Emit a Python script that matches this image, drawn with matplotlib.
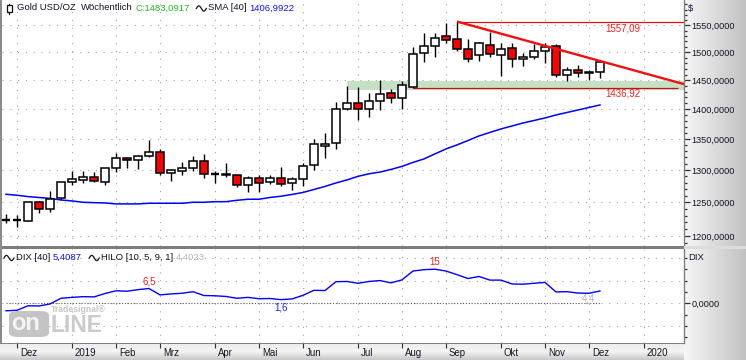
import matplotlib
matplotlib.use("Agg")
import matplotlib.pyplot as plt
import numpy as np
from matplotlib.patches import Rectangle
from matplotlib.lines import Line2D
from matplotlib.ticker import FixedLocator, FixedFormatter, NullFormatter
from matplotlib import transforms

# ---------------- data ----------------
opens = [1223.6, 1224.0, 1222.5, 1250.1, 1239.6, 1256.2, 1280.9, 1285.0, 1288.7, 1281.4,
         1302.9, 1318.8, 1315.3, 1322.1, 1328.2, 1295.0, 1299.1, 1302.6, 1314.0, 1293.4,
         1293.4, 1291.6, 1275.9, 1286.9, 1280.9, 1286.9, 1279.3, 1285.6, 1307.7, 1338.2,
         1343.0, 1399.6, 1409.8, 1399.6, 1414.3, 1427.0, 1418.4, 1438.6, 1498.2, 1512.2,
         1529.5, 1523.9, 1505.5, 1495.1, 1513.2, 1495.1, 1507.3, 1487.8, 1490.9, 1502.9,
         1512.2, 1459.2, 1468.1, 1463.9, 1463.9]
highs = [1232.0, 1231.0, 1251.0, 1251.6, 1267.4, 1281.9, 1299.1, 1298.2, 1296.6, 1303.4,
         1326.9, 1318.8, 1324.1, 1348.4, 1333.3, 1301.5, 1312.1, 1322.9, 1325.8, 1298.5,
         1310.9, 1291.6, 1290.5, 1292.3, 1291.6, 1304.5, 1289.7, 1310.9, 1350.0, 1359.5,
         1411.5, 1439.8, 1438.6, 1427.0, 1450.3, 1434.0, 1448.2, 1509.2, 1535.0, 1535.0,
         1553.8, 1557.09, 1524.5, 1519.0, 1536.9, 1516.5, 1516.5, 1498.2, 1514.6, 1516.5,
         1514.6, 1474.0, 1477.1, 1468.1, 1486.0]
lows = [1219.5, 1212.8, 1222.0, 1234.5, 1236.0, 1255.0, 1277.2, 1279.3, 1281.5, 1277.2,
        1297.5, 1303.9, 1301.3, 1321.5, 1291.6, 1282.2, 1291.6, 1299.1, 1287.0, 1279.0,
        1289.7, 1273.1, 1266.3, 1266.3, 1277.5, 1275.6, 1268.9, 1275.1, 1300.2, 1319.8,
        1333.3, 1399.0, 1381.5, 1386.0, 1398.4, 1410.8, 1400.6, 1436.92, 1482.9, 1491.9,
        1516.5, 1502.4, 1482.9, 1484.2, 1491.9, 1457.9, 1473.9, 1475.7, 1487.3, 1481.1,
        1456.2, 1447.7, 1456.2, 1450.3, 1453.3]
closes = [1224.0, 1223.7, 1250.1, 1239.6, 1255.1, 1280.9, 1285.6, 1288.7, 1282.5, 1302.9,
          1318.8, 1316.1, 1322.5, 1328.2, 1295.0, 1299.7, 1302.9, 1314.0, 1293.4, 1293.1,
          1291.6, 1275.9, 1286.9, 1279.3, 1286.9, 1278.2, 1285.6, 1306.6, 1341.9, 1341.4,
          1399.6, 1409.8, 1399.6, 1414.3, 1425.3, 1418.4, 1441.5, 1497.3, 1512.2, 1526.9,
          1522.6, 1505.5, 1487.3, 1516.5, 1496.4, 1505.5, 1487.8, 1490.9, 1502.9, 1509.2,
          1459.2, 1468.1, 1462.2, 1462.2, 1483.09]
sma40 = [1262.3, 1260.8, 1258.7, 1257.4, 1255.9, 1253.6, 1252.1, 1250.1, 1249.5, 1249.1,
         1247.6, 1247.6, 1247.6, 1248.6, 1248.6, 1248.6, 1248.6, 1250.1, 1250.1, 1251.0,
         1251.0, 1253.1, 1254.7, 1254.7, 1257.4, 1259.3, 1262.0, 1265.1, 1269.7, 1274.4,
         1279.8, 1284.5, 1290.1, 1294.1, 1296.8, 1301.0, 1305.8, 1312.1, 1317.7, 1325.8,
         1333.8, 1340.3, 1347.5, 1355.0, 1360.8, 1366.6, 1371.5, 1376.5, 1380.7, 1384.9,
         1390.0, 1394.2, 1398.4, 1402.7, 1406.99]
dix40 = [-3.3, -3.1, -1.1, -1.2, -0.3, 2.2, 2.6, 2.9, 2.8, 4.3,
         5.5, 5.3, 6.0, 6.5, 3.7, 4.1, 4.4, 5.1, 3.4, 3.3,
         3.0, 2.2, 2.6, 2.0, 2.1, 1.6, 1.9, 3.5, 5.7, 5.6,
         9.5, 9.6, 8.8, 9.6, 10.0, 9.0, 10.3, 14.2, 14.8, 15.0,
         14.2, 12.6, 10.9, 11.8, 10.2, 10.2, 8.5, 8.4, 8.8, 9.2,
         5.0, 5.1, 4.5, 4.4, 5.41]
month_idx = [1, 6, 10, 14, 19, 23, 27, 32, 36, 40, 45, 49, 53, 58]
month_labels = ['Dez', '2019', 'Feb', 'Mrz', 'Apr', 'Mai', 'Jun', 'Jul', 'Aug',
                'Sep', 'Okt', 'Nov', 'Dez', '2020']
price_ticks = [1200, 1250, 1300, 1350, 1400, 1450, 1500, 1550]
res_high = 1557.09
sup_low = 1436.92
zone_low, zone_high = 1433.0, 1449.0
zone_start = 31
res_start = 41
sup_start, sup_end = 37, 61.1
trend_p1 = (41, 1557.09)
trend_p2 = (61.6, 1443.3)
last_close = 1483.0917
last_sma = 1406.9922
last_dix = 5.4087
last_hilo = 4.4023
dix_max_i, dix_min_i, dix_loc_i = 39, 25, 13

# ---------------- figure ----------------
W, H = 746, 360
fig = plt.figure(figsize=(W / 100, H / 100), dpi=100)
fig.patch.set_facecolor('white')
FONT = ['Liberation Sans', 'DejaVu Sans']
TXT = '#141428'
renderer = fig.canvas.get_renderer()

def rect_px(x0, y0, x1, y1):
    return [x0 / W, 1 - y1 / H, (x1 - x0) / W, (y1 - y0) / H]

# gradient backgrounds
bg_r = fig.add_axes(rect_px(684, 0, 746, 360), zorder=0)
grad = np.linspace(0, 1, 64)[None, :]
bg_r.imshow(grad, aspect='auto', cmap=matplotlib.colors.LinearSegmentedColormap.from_list(
    'g', ['#f6f6f6', '#c2c2c2']), extent=(0, 1, 0, 1))
bg_r.axis('off')
bg_b = fig.add_axes(rect_px(0, 343, 684, 360), zorder=0)
bg_b.imshow(np.linspace(0, 1, 32)[:, None], aspect='auto', cmap=matplotlib.colors.LinearSegmentedColormap.from_list(
    'g2', ['#ececec', '#f4f4f4', '#c8c8c8']), extent=(0, 1, 0, 1))
bg_b.axis('off')

ax = fig.add_axes(rect_px(2, 0, 684, 246), zorder=2)
ax2 = fig.add_axes(rect_px(2, 249, 684, 343), zorder=2)

xlim = (-0.364, 61.64)
ax.set_yscale('log')
ax.set_xlim(*xlim)
ax.set_ylim(1185.4, 1598.4)
ax2.set_xlim(*xlim)
ax2.set_ylim(-17.5, 23.9)

grid_h = '#93b393'
grid_v = '#a4a4a4'
dots = (0, (1.0, 6.0))

for a in (ax, ax2):
    a.set_facecolor('white')
    for s in a.spines.values():
        s.set_visible(False)
    a.spines['right'].set_visible(True)
    a.spines['right'].set_color('#808080')
    a.spines['right'].set_linewidth(1.0)
    for m in month_idx:
        a.axvline(m, color=grid_v, lw=0.8, ls=dots, zorder=0.5)

for p in price_ticks:
    ax.axhline(p, color=grid_h, lw=0.8, ls=dots, zorder=0.5)
for g in (-10, 0, 10, 20):
    ax2.axhline(g, color=grid_h, lw=0.8, ls=dots, zorder=0.5)

# support zone and lines
ax.axhspan(zone_low, zone_high, xmin=(zone_start - xlim[0]) / (xlim[1] - xlim[0]), xmax=1,
           facecolor='#c6e0c6', edgecolor='none', zorder=1)
ax.hlines(res_high, res_start, xlim[1], color='#e01010', lw=0.9, zorder=2)
ax.hlines(sup_low, sup_start, sup_end, color='#c81010', lw=0.9, zorder=2)

# SMA
ax.plot(range(len(sma40)), sma40, color='#0000ff', lw=1.1, zorder=2)

# candles
bw = 0.78
for i, (o, h, l, c) in enumerate(zip(opens, highs, lows, closes)):
    ax.vlines(i, l, h, color='black', lw=1.0, zorder=3)
    lo, hi = min(o, c), max(o, c)
    if hi - lo < 1.0:
        ax.hlines((o + c) / 2, i - bw / 2, i + bw / 2, color='black', lw=1.7, zorder=4)
    else:
        fc = 'white' if c >= o else '#ff0000'
        ax.add_patch(Rectangle((i - bw / 2, lo), bw, hi - lo, facecolor=fc,
                               edgecolor='black', lw=1.1, zorder=4))

# trend line
slope = (np.log(trend_p2[1]) - np.log(trend_p1[1])) / (trend_p2[0] - trend_p1[0])
tx = np.array([trend_p1[0], xlim[1]])
ty = np.exp(np.log(trend_p1[1]) + slope * (tx - trend_p1[0]))
ax.plot(tx, ty, color='#f01010', lw=1.7, zorder=5, solid_capstyle='butt')

# value labels
ax.annotate(f"{res_high:.2f}".replace('.', ','), xy=(56.1, res_high), xytext=(0, -4.8),
            textcoords='offset points', ha='center', va='center', color='#ff2020',
            fontsize=7.0, family=FONT, zorder=6)
ax.annotate(f"{sup_low:.2f}".replace('.', ','), xy=(56.1, sup_low), xytext=(0, -4.1),
            textcoords='offset points', ha='center', va='center', color='#ff2020',
            fontsize=7.0, family=FONT, zorder=6)

# right price axis
ax.yaxis.tick_right()
ax.yaxis.set_major_locator(FixedLocator(price_ticks))
ax.yaxis.set_major_formatter(FixedFormatter([f"{p},0000" for p in price_ticks]))
minor = [v for v in range(1190, 1600, 10) if v not in price_ticks]
ax.yaxis.set_minor_locator(FixedLocator(minor))
ax.yaxis.set_minor_formatter(NullFormatter())
ax.tick_params(axis='y', which='major', direction='out', length=4, width=0.9,
               color='#303030', labelsize=6.6, labelcolor=TXT, pad=1.5)
ax.tick_params(axis='y', which='minor', direction='out', length=2.2, width=0.9, color='#303030')
for t in ax.get_yticklabels():
    t.set_family(FONT)
ax.set_xticks([])

# lower panel
ax2.plot(range(len(dix40)), dix40, color='#0000ff', lw=1.0, zorder=3)
ax2.hlines(0, 0, len(dix40) - 1, color='#606060', lw=0.8, ls=(0, (1.0, 1.6)), zorder=2)
ax2.yaxis.tick_right()
ax2.yaxis.set_major_locator(FixedLocator([0]))
ax2.yaxis.set_major_formatter(FixedFormatter(['0,0000']))
ax2.yaxis.set_minor_locator(FixedLocator([-15, -10, -5, 5, 10, 15, 20]))
ax2.yaxis.set_minor_formatter(NullFormatter())
ax2.tick_params(axis='y', which='major', direction='out', length=4, width=0.9,
                color='#303030', labelsize=6.6, labelcolor=TXT, pad=1.5)
ax2.tick_params(axis='y', which='minor', direction='out', length=2.2, width=0.9, color='#303030')
for t in ax2.get_yticklabels():
    t.set_family(FONT)

ax2.set_xticks(month_idx)
ax2.set_xticklabels([])
ax2.tick_params(axis='x', direction='out', length=3.5, width=0.8, color='#303030')
lab_tr = transforms.offset_copy(ax2.get_xaxis_transform(), fig=fig, x=3, y=-10, units='dots')
for m, lab in zip(month_idx, month_labels):
    ax2.text(m, 0, lab, transform=lab_tr, ha='left', va='center', fontsize=6.9,
             color=TXT, family=FONT, clip_on=False)

ax2.annotate(f"{dix40[dix_loc_i]:.1f}".replace('.', ','), xy=(dix_loc_i, dix40[dix_loc_i]),
             xytext=(0, 5.4), textcoords='offset points', ha='center', va='center',
             color='#ff2020', fontsize=7.0, family=FONT)
ax2.annotate(f"{dix40[dix_max_i]:.0f}", xy=(dix_max_i, dix40[dix_max_i]),
             xytext=(0, 4.9), textcoords='offset points', ha='center', va='center',
             color='#ff2020', fontsize=7.0, family=FONT)
ax2.annotate(f"{dix40[dix_min_i]:.1f}".replace('.', ','), xy=(dix_min_i, dix40[dix_min_i]),
             xytext=(0, -5.6), textcoords='offset points', ha='center', va='center',
             color='#2020ff', fontsize=7.0, family=FONT)
ax2.annotate(f"{last_hilo:.1f}".replace('.', ','), xy=(53, last_hilo),
             xytext=(0, -3.6), textcoords='offset points', ha='center', va='center',
             color='#b4b4b4', fontsize=7.0, family=FONT)

# text helpers
def ftext(x, y, s, **kw):
    kw.setdefault('family', FONT)
    kw.setdefault('va', 'center')
    kw.setdefault('ha', 'left')
    return fig.text(x / W, 1 - y / H, s, zorder=10, **kw)

def wave(x0, y0, w=10.0, h=2.6):
    t = np.linspace(0, 2 * np.pi, 40)
    xs = x0 + t / (2 * np.pi) * w
    ys = y0 - h * np.sin(t)
    fig.add_artist(Line2D(xs / W, 1 - ys / H, color='#101010', lw=0.9,
                          transform=fig.transFigure, zorder=10))

def chain(x, y, parts, fs=7.0):
    """parts: list of (text, color, gap_after); text '~' draws the wave icon"""
    for s, col, gap in parts:
        if s == '~':
            wave(x, y + 0.5)
            x += 11.0 + gap
            continue
        t = ftext(x, y, s, fontsize=fs, color=col)
        bb = t.get_window_extent(renderer=renderer)
        x += bb.width + gap

# watermark
fig.add_artist(matplotlib.patches.FancyBboxPatch(
    (9 / W, 1 - 337 / H), 40 / W, 26 / H, boxstyle='round,pad=0,rounding_size=0.012',
    transform=fig.transFigure, facecolor='#c4c4c4', edgecolor='none', zorder=9.5))
ftext(11, 324, 'on', fontsize=17, weight='bold', color='#f4f4f4')
ftext(50, 325, 'LINE', fontsize=16.5, weight='bold', color='#cbcbcb')
ftext(51, 310, 'Tradesignal\u00ae', fontsize=6.2, weight='bold', color='#c6c6c6')

# candle icon
fig.add_artist(Rectangle((7 / W, 1 - 12 / H), 4.5 / W, 7 / H, transform=fig.transFigure,
                         facecolor='white', edgecolor='#101010', lw=0.9, zorder=10))
fig.add_artist(Line2D([9.25 / W, 9.25 / W], [1 - 3.5 / H, 1 - 5 / H], color='#101010', lw=0.9,
                      transform=fig.transFigure, zorder=10))
fig.add_artist(Line2D([9.25 / W, 9.25 / W], [1 - 12 / H, 1 - 13.5 / H], color='#101010', lw=0.9,
                      transform=fig.transFigure, zorder=10))

FS = 6.8
chain(17, 8, [('Gold USD/OZ', TXT, 5.0), ('Wöchentlich', TXT, 2.5),
              ('C:' + f"{last_close:.4f}".replace('.', ','), '#22bb22', 7.0),
              ('~', None, 0.5), ('SMA [40]', TXT, 2.5),
              (f"{last_sma:.4f}".replace('.', ','), '#1010ff', 0)], fs=FS)
chain(4, 257.5, [('~', None, 0.5), ('DIX [40]', TXT, 2.5),
                 (f"{last_dix:.4f}".replace('.', ','), '#1010ff', 8.0),
                 ('~', None, 0.5), ('HILO [10, 5, 9, 1]', TXT, 2.5),
                 (f"{last_hilo:.4f}".replace('.', ','), '#b4b4b4', 0)], fs=FS)

ftext(688, 8, '$', fontsize=FS, color=TXT)
ftext(688, 257, 'DIX', fontsize=FS, color=TXT)

# frame lines
def hbar(x0, x1, y0, y1, color):
    fig.add_artist(Rectangle((x0 / W, 1 - y1 / H), (x1 - x0) / W, (y1 - y0) / H,
                             transform=fig.transFigure, facecolor=color, edgecolor='none', zorder=9))

hbar(0, 684, 246, 249, '#7c7c7c')
hbar(684, 746, 246, 249, '#dcdcdc')
hbar(0, 2, 0, 343, '#8a8a8a')
hbar(0, 684, 343, 344, '#808080')

fig.savefig('out.png', dpi=100)
